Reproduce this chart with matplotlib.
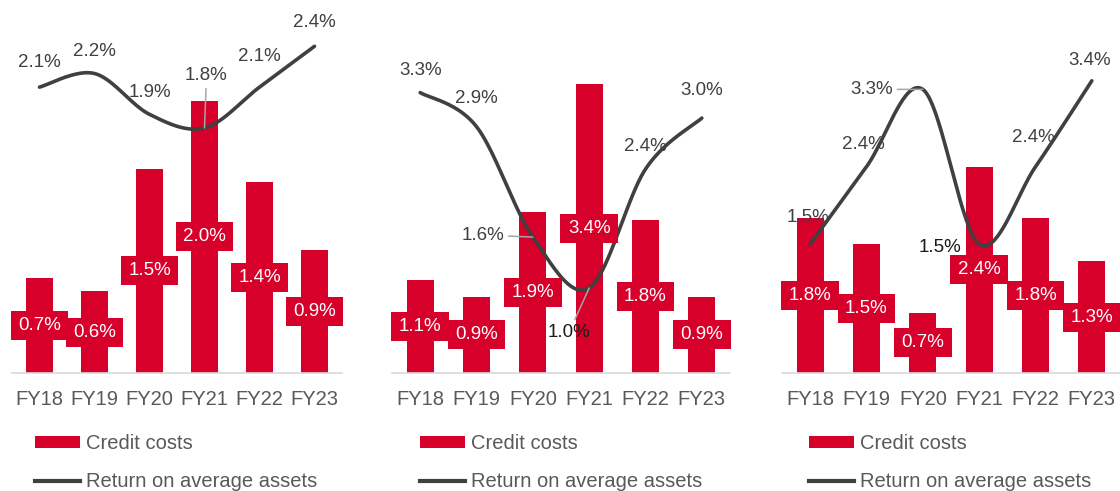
import numpy as np
import matplotlib
matplotlib.use("Agg")
import matplotlib.pyplot as plt
from matplotlib.patches import Patch
from matplotlib.lines import Line2D
from matplotlib.path import Path

plt.rcParams['font.family'] = ['Liberation Sans', 'DejaVu Sans']

categories = ["FY18", "FY19", "FY20", "FY21", "FY22", "FY23"]
credit_costs_1 = [0.7, 0.6, 1.5, 2.0, 1.4, 0.9]
roa_1 = [2.1, 2.2, 1.9, 1.8, 2.1, 2.4]
credit_costs_2 = [1.1, 0.9, 1.9, 3.4, 1.8, 0.9]
roa_2 = [3.3, 2.9, 1.6, 1.0, 2.4, 3.0]
credit_costs_3 = [1.8, 1.5, 0.7, 2.4, 1.8, 1.3]
roa_3 = [1.5, 2.4, 3.3, 1.5, 2.4, 3.4]
legend_labels = ["Credit costs", "Return on average assets"]

RED = "#D6002A"
LINE = "#404040"
GRAY_TXT = "#595959"

W, H = 1120, 491
fig = plt.figure(figsize=(W / 100, H / 100), dpi=100)

# layout: (left px, width px, ylim top, bars, line, label offsets, legend x)
panels = [
    (12, 330, 2.74, credit_costs_1, roa_1,
     [(0, 25, False, LINE), (0, 22, False, LINE), (0, 22, False, LINE),
      (2, 52, True, LINE), (0, 31, False, LINE), (0, 24, False, LINE)], 35),
    (392, 338, 4.39, credit_costs_2, roa_2,
     [(0, 22, False, LINE), (0, 28, False, LINE), (-50, 2, True, LINE),
      (-20, -44, True, "#1a1a1a"), (0, 23, False, LINE), (0, 28, False, LINE)], 420),
    (782, 338, 4.34, credit_costs_3, roa_3,
     [(-2, 27, False, LINE), (-3, 22, False, LINE), (-51, 0, True, LINE),
      (-39, -3, False, "#1a1a1a"), (-2, 29, False, LINE), (-2, 20, False, LINE)], 809),
]

baseline_px = 373


def smooth(xs, ys, n=40):
    P = np.column_stack([xs, ys]).astype(float)
    Pe = np.vstack([P[0], P, P[-1]])
    out = []
    t = np.linspace(0, 1, n)[:, None]
    for i in range(len(P) - 1):
        p0 = Pe[i + 1]
        p3 = Pe[i + 2]
        c1 = p0 + (Pe[i + 2] - Pe[i]) / 6.0
        c2 = p3 - (Pe[i + 3] - Pe[i + 1]) / 6.0
        seg = ((1 - t) ** 3) * p0 + 3 * ((1 - t) ** 2) * t * c1 + 3 * (1 - t) * t ** 2 * c2 + t ** 3 * p3
        out.append(seg if i == 0 else seg[1:])
    arr = np.vstack(out)
    return arr[:, 0], arr[:, 1]


def label_box(x0, y0, width, height, mutation_size):
    padx = 0.40 * mutation_size
    pady = 0.32 * mutation_size
    x0, y0 = x0 - padx, y0 - pady
    x1, y1 = x0 + width + 2 * padx, y0 + height + 2 * pady
    return Path([(x0, y0), (x1, y0), (x1, y1), (x0, y1), (x0, y0)], closed=True)


for left, width, ytop, bars, roa, offs, leg_x in panels:
    ax = fig.add_axes([left / W, (H - baseline_px) / H, width / W, baseline_px / H])
    x = np.arange(len(categories))
    ax.bar(x, bars, width=0.48, color=RED, zorder=2)
    sx, sy = smooth(x, roa)
    ax.plot(sx, sy, color=LINE, lw=2.6, zorder=3, solid_capstyle='round')
    ax.set_xlim(-0.5, len(categories) - 0.5)
    ax.set_ylim(0, ytop)
    for xi, v in zip(x, bars):
        ax.text(xi, v / 2, f"{v:.1f}%", ha='center', va='center', color='white',
                fontsize=13.5, zorder=4,
                bbox=dict(boxstyle=label_box, fc=RED, ec='none'))
    for xi, v, (dx, dy, lead, col) in zip(x, roa, offs):
        kw = {}
        if lead:
            kw['arrowprops'] = dict(arrowstyle='-', color='#A6A6A6', lw=1.1,
                                    shrinkA=1, shrinkB=0)
        ax.annotate(f"{v:.1f}%", xy=(xi, v), xytext=(dx, dy), textcoords='offset pixels',
                    ha='center', va='center', color=col, fontsize=13.5, zorder=5,
                    annotation_clip=False, **kw)
    for s in ['top', 'right', 'left']:
        ax.spines[s].set_visible(False)
    ax.spines['bottom'].set_color('#D9D9D9')
    ax.spines['bottom'].set_linewidth(1.2)
    ax.set_yticks([])
    ax.set_xticks(x)
    ax.set_xticklabels(categories, fontsize=14.5, color=GRAY_TXT)
    ax.tick_params(axis='x', length=0, pad=12)
    ax.patch.set_alpha(0)

    handles = [Patch(facecolor=RED, edgecolor='none'),
               Line2D([0], [0], color=LINE, lw=3)]
    fig.legend(handles, legend_labels, loc='upper left',
               bbox_to_anchor=(leg_x / W, 1 - 434 / H), bbox_transform=fig.transFigure,
               frameon=False, fontsize=14.5, labelcolor=GRAY_TXT, borderpad=0,
               borderaxespad=0, handlelength=2.25, handleheight=0.5,
               handletextpad=0.3, labelspacing=0.95)

fig.savefig("out.png", dpi=100)
